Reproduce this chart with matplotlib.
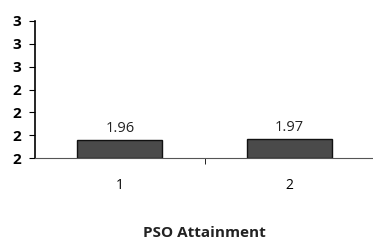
import matplotlib
matplotlib.use("Agg")
import matplotlib.pyplot as plt
from matplotlib.ticker import FormatStrFormatter

categories = ["1", "2"]
values = [1.96, 1.97]
value_labels = ["1.96", "1.97"]
xlabel = "PSO Attainment"

def main():
    plt.rcParams['font.family'] = ['Open Sans', 'DejaVu Sans']
    fig = plt.figure(figsize=(3.73, 2.44), dpi=100)
    ax = fig.add_axes([0.094, 0.352, 0.91, 0.562])

    x = list(range(len(categories)))
    bars = ax.bar(x, [v - 1.8 for v in values], bottom=1.8, width=0.5,
                  color="#4a4a4a", edgecolor="#111111", linewidth=1.0)
    for b, lab in zip(bars, value_labels):
        ax.text(b.get_x() + b.get_width() / 2, b.get_y() + b.get_height() + 0.03,
                lab, ha="center", va="bottom", fontsize=10.5, color="#222222")

    ax.set_ylim(1.8, 3.0)
    ax.set_yticks([1.8, 2.0, 2.2, 2.4, 2.6, 2.8, 3.0])
    ax.yaxis.set_major_formatter(FormatStrFormatter('%.0f'))
    ax.set_xlim(-0.5, 1.5)
    ax.set_xticks(x)
    ax.set_xticklabels(categories)
    ax.set_xticks([0.5, 1.5], minor=True)
    ax.tick_params(axis="x", which="major", length=0, pad=14, labelsize=10)
    ax.tick_params(axis="x", which="minor", length=4, direction="out")
    ax.tick_params(axis="y", length=4, labelsize=11, pad=6)
    for t in ax.get_yticklabels():
        t.set_fontweight("bold")

    for s in ["top", "right"]:
        ax.spines[s].set_visible(False)
    ax.spines["left"].set_linewidth(1.2)
    ax.spines["bottom"].set_color("#555555")

    ax.set_xlabel(xlabel, fontsize=11, fontweight="bold", labelpad=24, color="#222222")
    fig.savefig("out.png", dpi=100)

if __name__ == "__main__":
    main()
